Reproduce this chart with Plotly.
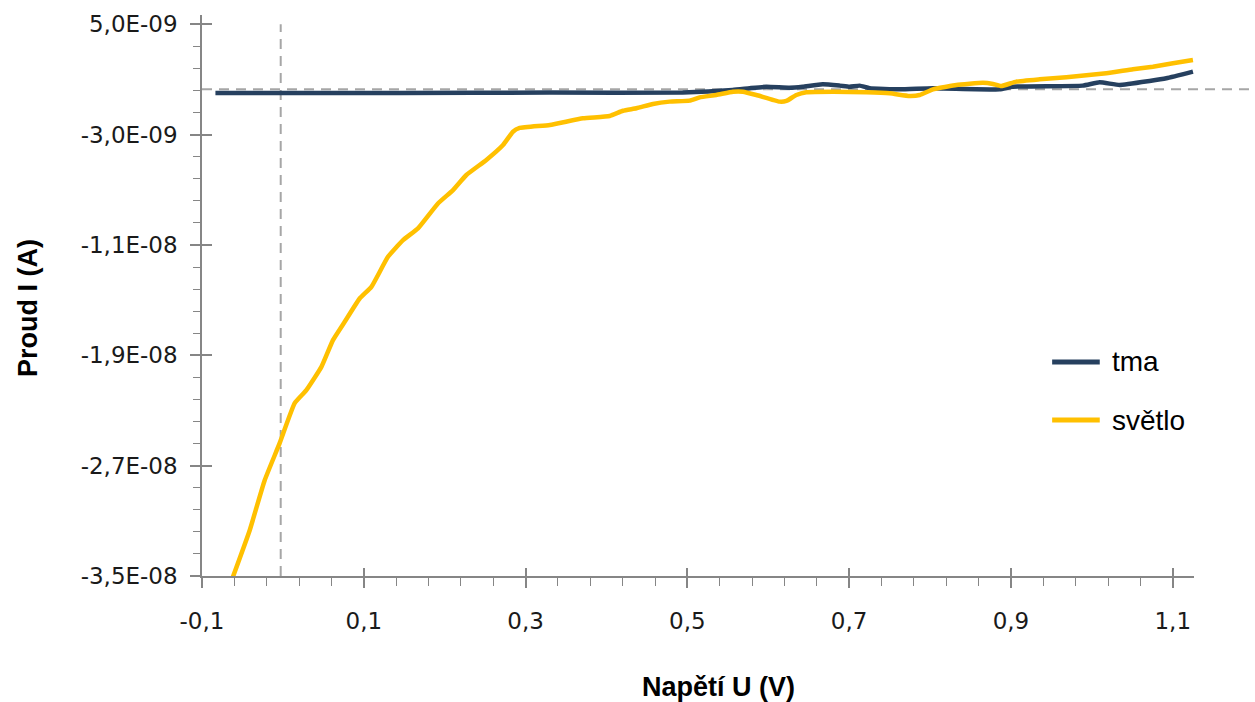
import plotly.graph_objects as go

# ---- data ----
series_names = ["tma", "světlo"]

tma_u = [-0.0834, 0.1444, 0.3298, 0.4942, 0.5560, 0.5770, 0.5977, 0.6265, 0.6425,
         0.6673, 0.6883, 0.7006, 0.7130, 0.7253, 0.7624, 0.8032, 0.8860, 0.9021,
         0.9886, 1.0096, 1.0343, 1.0714, 1.0921, 1.1250]
tma_i = [0.02e-9, 0.02e-9, 0.05e-9, 0.05e-9, 0.23e-9, 0.36e-9, 0.47e-9, 0.40e-9, 0.47e-9,
         0.65e-9, 0.55e-9, 0.47e-9, 0.55e-9, 0.36e-9, 0.28e-9, 0.36e-9, 0.28e-9, 0.47e-9,
         0.55e-9, 0.79e-9, 0.60e-9, 0.89e-9, 1.08e-9, 1.56e-9]

svetlo_u = [-0.0620, -0.0410, -0.0225, -0.0040, 0.0146, 0.0290, 0.0476, 0.0619, 0.0764,
            0.0949, 0.1094, 0.1299, 0.1485, 0.1670, 0.1917, 0.2103, 0.2268, 0.2515,
            0.2721, 0.2844, 0.2927, 0.3300, 0.3710, 0.4040, 0.4204, 0.4370, 0.4575,
            0.4781, 0.5028, 0.5152, 0.5358, 0.5564, 0.5687, 0.5853, 0.6141, 0.6224,
            0.6347, 0.6471, 0.6800, 0.7213, 0.7501, 0.7748, 0.7872, 0.8036, 0.8202,
            0.8325, 0.8654, 0.8778, 0.8881, 0.9067, 0.9355, 0.9685, 1.0179, 1.0508,
            1.0755, 1.1003, 1.1250]
svetlo_i = [-35.1e-9, -31.68e-9, -28.06e-9, -25.37e-9, -22.47e-9, -21.53e-9, -19.84e-9, -17.90e-9, -16.57e-9,
            -14.88e-9, -14.04e-9, -11.86e-9, -10.65e-9, -9.80e-9, -7.99e-9, -7.02e-9, -5.93e-9, -4.84e-9,
            -3.76e-9, -2.79e-9, -2.52e-9, -2.30e-9, -1.82e-9, -1.65e-9, -1.27e-9, -1.09e-9, -0.78e-9,
            -0.61e-9, -0.54e-9, -0.30e-9, -0.13e-9, 0.11e-9, 0.11e-9, -0.13e-9, -0.61e-9, -0.56e-9,
            -0.13e-9, 0.07e-9, 0.11e-9, 0.07e-9, -0.01e-9, -0.20e-9, -0.13e-9, 0.28e-9, 0.47e-9,
            0.60e-9, 0.76e-9, 0.67e-9, 0.52e-9, 0.84e-9, 1.01e-9, 1.16e-9, 1.45e-9, 1.74e-9,
            1.92e-9, 2.17e-9, 2.41e-9]

y_tick_vals = [-3.5e-8, -2.7e-8, -1.9e-8, -1.1e-8, -3.0e-9, 5.0e-9]
y_tick_text = ["-3,5E-08", "-2,7E-08", "-1,9E-08", "-1,1E-08", "-3,0E-09", "5,0E-09"]
x_tick_vals = [-0.1, 0.1, 0.3, 0.5, 0.7, 0.9, 1.1]
x_tick_text = ["-0,1", "0,1", "0,3", "0,5", "0,7", "0,9", "1,1"]

x_title = "Napětí U (V)"
y_title = "Proud I (A)"

# reference lines
zero_u = -0.0027
zero_i = 0.28e-9
hline_u_end = 1.2

# ---- styling ----
x_range = [-0.1, 1.1263]
y_range = [-3.5e-8, 5.67e-9]
colors = ["#26405F", "#FFC000"]
axis_col = "#868686"
dash_col = "#A6A6A6"
tick_font = dict(family="DejaVu Sans", size=23, color="#1a1a1a")

fig = go.Figure()
fig.add_trace(go.Scatter(x=tma_u, y=tma_i, mode="lines", name=series_names[0],
                         line=dict(color=colors[0], width=4.5, shape="spline", smoothing=0.4),
                         showlegend=False))
fig.add_trace(go.Scatter(x=svetlo_u, y=svetlo_i, mode="lines", name=series_names[1],
                         line=dict(color=colors[1], width=4.5, shape="spline", smoothing=0.4),
                         showlegend=False))
# dummy trace to host the overlay axes (inside tick halves)
fig.add_trace(go.Scatter(x=[None], y=[None], xaxis="x2", yaxis="y2", showlegend=False,
                         hoverinfo="skip"))

def xp(u):
    return (u - x_range[0]) / (x_range[1] - x_range[0])

def yp(i):
    return (i - y_range[0]) / (y_range[1] - y_range[0])

shapes = [
    dict(type="line", xref="paper", yref="paper", x0=xp(zero_u), x1=xp(zero_u),
         y0=yp(y_range[0]), y1=yp(5.0e-9), line=dict(color=dash_col, width=2, dash="10px,7px"),
         layer="below"),
    dict(type="line", xref="paper", yref="paper", x0=xp(-0.1), x1=xp(hline_u_end),
         y0=yp(zero_i), y1=yp(zero_i), line=dict(color=dash_col, width=2, dash="10px,7px"),
         layer="below"),
]

# manual legend
leg_y = [0.3815, 0.278]
annotations = []
for k in range(2):
    shapes.append(dict(type="line", xref="paper", yref="paper", x0=0.857, x1=0.905,
                       y0=leg_y[k], y1=leg_y[k], line=dict(color=colors[k], width=5)))
    annotations.append(dict(xref="paper", yref="paper", x=0.915, y=leg_y[k], text=series_names[k],
                            showarrow=False, xanchor="left", yanchor="middle",
                            font=dict(family="Liberation Sans", size=28, color="#000")))

annotations.append(dict(xref="paper", yref="paper", x=0.521, y=-0.198, text="<b>%s</b>" % x_title,
                        showarrow=False, xanchor="center", yanchor="middle",
                        font=dict(family="Liberation Sans", size=27, color="#000")))
annotations.append(dict(xref="paper", yref="paper", x=-0.1754, y=0.4777, text="<b>%s</b>" % y_title,
                        showarrow=False, xanchor="center", yanchor="middle", textangle=-90,
                        font=dict(family="Liberation Sans", size=27, color="#000")))

fig.update_layout(
    width=1255, height=702,
    margin=dict(l=202, r=61, t=15, b=126),
    paper_bgcolor="white", plot_bgcolor="white",
    showlegend=False,
    shapes=shapes, annotations=annotations,
    xaxis=dict(range=x_range, tickvals=x_tick_vals, ticktext=x_tick_text,
               showgrid=False, zeroline=False, showline=True, linecolor=axis_col, linewidth=1.5,
               ticks="outside", ticklen=10, tickwidth=1.5, tickcolor=axis_col,
               ticklabelstandoff=14, tickfont=tick_font,
               minor=dict(ticks="outside", ticklen=8, tickwidth=1.2, tickcolor=axis_col,
                          tick0=-0.1, dtick=0.04, showgrid=False)),
    yaxis=dict(range=y_range, tickvals=y_tick_vals, ticktext=y_tick_text,
               showgrid=False, zeroline=False, showline=True, linecolor=axis_col, linewidth=1.5,
               ticks="outside", ticklen=10, tickwidth=1.5, tickcolor=axis_col,
               ticklabelstandoff=8, tickfont=tick_font,
               minor=dict(ticks="outside", ticklen=7, tickwidth=1.2, tickcolor=axis_col,
                          tick0=-3.5e-8, dtick=1.6e-9, showgrid=False)),
    xaxis2=dict(overlaying="x", range=x_range, tickvals=x_tick_vals, showticklabels=False,
                showgrid=False, zeroline=False, showline=False,
                ticks="inside", ticklen=8, tickwidth=1.5, tickcolor=axis_col),
    yaxis2=dict(overlaying="y", range=y_range, tickvals=y_tick_vals, showticklabels=False,
                showgrid=False, zeroline=False, showline=False,
                ticks="inside", ticklen=10, tickwidth=1.5, tickcolor=axis_col),
)

fig.write_html("out.html", config={"displayModeBar": False},
               post_script="document.body.style.margin='0';document.body.style.overflow='hidden';")
